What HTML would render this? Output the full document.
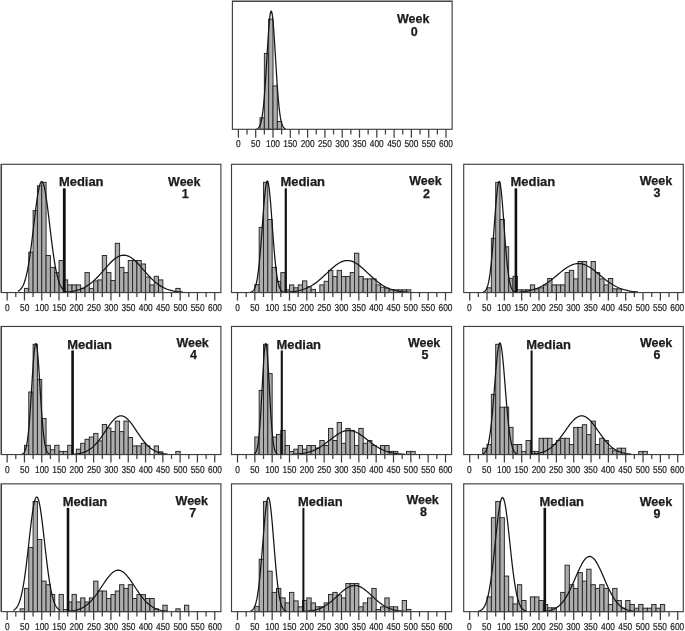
<!DOCTYPE html>
<html><head><meta charset="utf-8"><title>Weekly distributions</title>
<style>html,body{margin:0;padding:0;background:#fff}svg{display:block}text{font-family:"Liberation Sans",Arial,Helvetica,sans-serif}.t{font-size:10px;fill:#222;stroke:#222;stroke-width:.22;text-anchor:middle;text-rendering:geometricPrecision}.b{font-size:12px;font-weight:bold;fill:#1c1c1c;stroke:#1c1c1c;stroke-width:.25}.bar{fill:#adadad;stroke:#262626;stroke-width:.95}.cv{fill:none;stroke:#151515;stroke-width:1.25;stroke-linejoin:round}.fr{fill:none;stroke:#404040;stroke-width:1.15}.tk{stroke:#404040;stroke-width:1.25}.md{stroke:#111}</style></head><body>
<svg width="685" height="631" viewBox="0 0 685 631">
<rect width="685" height="631" fill="#fff"/>
<g id="week0">
<rect class="bar" x="260.02" y="117.80" width="4.32" height="11.50"/><rect class="bar" x="264.35" y="53.40" width="4.32" height="75.90"/><rect class="bar" x="268.68" y="19.10" width="4.32" height="110.20"/><rect class="bar" x="273.00" y="85.90" width="4.32" height="43.40"/><rect class="bar" x="277.32" y="121.50" width="4.32" height="7.80"/>
<polyline class="cv" points="256.61,128.93 257.10,128.77 257.59,128.53 258.07,128.20 258.56,127.76 259.04,127.16 259.53,126.37 260.02,125.34 260.50,124.02 260.99,122.33 261.48,120.24 261.96,117.66 262.45,114.53 262.93,110.81 263.42,106.45 263.91,101.41 264.39,95.70 264.88,89.34 265.37,82.38 265.85,74.91 266.34,67.06 266.82,58.98 267.31,50.87 267.80,42.94 268.28,35.42 268.77,28.55 269.26,22.55 269.74,17.64 270.23,14.00 270.71,11.76 271.20,11.00 271.69,11.76 272.17,14.00 272.66,17.64 273.15,22.55 273.63,28.55 274.12,35.42 274.60,42.94 275.09,50.87 275.58,58.98 276.06,67.06 276.55,74.91 277.04,82.38 277.52,89.34 278.01,95.70 278.49,101.41 278.98,106.45 279.47,110.81 279.95,114.53 280.44,117.66 280.93,120.24 281.41,122.33 281.90,124.02 282.38,125.34 282.87,126.37 283.36,127.16 283.84,127.76 284.33,128.20 284.82,128.53 285.30,128.77 285.79,128.93"/>
<rect class="fr" x="232.40" y="1.40" width="219.75" height="127.90"/>
<path class="tk" d="M238.40 129.30v8.5M247.05 129.30v5.1M255.70 129.30v8.5M264.35 129.30v5.1M273.00 129.30v8.5M281.65 129.30v5.1M290.30 129.30v8.5M298.95 129.30v5.1M307.60 129.30v8.5M316.25 129.30v5.1M324.90 129.30v8.5M333.55 129.30v5.1M342.20 129.30v8.5M350.85 129.30v5.1M359.50 129.30v8.5M368.15 129.30v5.1M376.80 129.30v8.5M385.45 129.30v5.1M394.10 129.30v8.5M402.75 129.30v5.1M411.40 129.30v8.5M420.05 129.30v5.1M428.70 129.30v8.5M437.35 129.30v5.1M446.00 129.30v8.5"/>
<text class="t" transform="translate(238.40 147.30) scale(.835 1)">0</text><text class="t" transform="translate(255.70 147.30) scale(.835 1)">50</text><text class="t" transform="translate(273.00 147.30) scale(.835 1)">100</text><text class="t" transform="translate(290.30 147.30) scale(.835 1)">150</text><text class="t" transform="translate(307.60 147.30) scale(.835 1)">200</text><text class="t" transform="translate(324.90 147.30) scale(.835 1)">250</text><text class="t" transform="translate(342.20 147.30) scale(.835 1)">300</text><text class="t" transform="translate(359.50 147.30) scale(.835 1)">350</text><text class="t" transform="translate(376.80 147.30) scale(.835 1)">400</text><text class="t" transform="translate(394.10 147.30) scale(.835 1)">450</text><text class="t" transform="translate(411.40 147.30) scale(.835 1)">500</text><text class="t" transform="translate(428.70 147.30) scale(.835 1)">550</text><text class="t" transform="translate(446.00 147.30) scale(.835 1)">600</text>
<text class="b" x="413.20" y="22.70" text-anchor="middle" textLength="32.4" lengthAdjust="spacingAndGlyphs">Week</text><text class="b" x="414.20" y="35.70" text-anchor="middle" style="font-size:12.5px">0</text>
</g>
<g id="week1">
<rect class="bar" x="24.45" y="288.40" width="4.32" height="4.15"/><rect class="bar" x="28.77" y="252.20" width="4.32" height="40.35"/><rect class="bar" x="33.10" y="210.60" width="4.32" height="81.95"/><rect class="bar" x="37.42" y="185.80" width="4.32" height="106.75"/><rect class="bar" x="41.75" y="182.30" width="4.32" height="110.25"/><rect class="bar" x="46.07" y="255.50" width="4.32" height="37.05"/><rect class="bar" x="50.40" y="267.40" width="4.32" height="25.15"/><rect class="bar" x="54.72" y="272.60" width="4.32" height="19.95"/><rect class="bar" x="59.05" y="260.50" width="4.32" height="32.05"/><rect class="bar" x="63.37" y="279.90" width="4.32" height="12.65"/><rect class="bar" x="67.70" y="284.90" width="4.32" height="7.65"/><rect class="bar" x="72.03" y="284.90" width="4.32" height="7.65"/><rect class="bar" x="76.35" y="284.90" width="4.32" height="7.65"/><rect class="bar" x="80.67" y="288.40" width="4.32" height="4.15"/><rect class="bar" x="85.00" y="272.60" width="4.32" height="19.95"/><rect class="bar" x="89.33" y="288.40" width="4.32" height="4.15"/><rect class="bar" x="93.65" y="280.90" width="4.32" height="11.65"/><rect class="bar" x="97.97" y="279.90" width="4.32" height="12.65"/><rect class="bar" x="102.30" y="255.50" width="4.32" height="37.05"/><rect class="bar" x="106.62" y="272.60" width="4.32" height="19.95"/><rect class="bar" x="110.95" y="280.50" width="4.32" height="12.05"/><rect class="bar" x="115.27" y="243.30" width="4.32" height="49.25"/><rect class="bar" x="119.60" y="267.40" width="4.32" height="25.15"/><rect class="bar" x="123.92" y="272.60" width="4.32" height="19.95"/><rect class="bar" x="128.25" y="260.50" width="4.32" height="32.05"/><rect class="bar" x="132.57" y="260.50" width="4.32" height="32.05"/><rect class="bar" x="136.90" y="260.50" width="4.32" height="32.05"/><rect class="bar" x="141.22" y="264.00" width="4.32" height="28.55"/><rect class="bar" x="145.55" y="277.00" width="4.32" height="15.55"/><rect class="bar" x="149.88" y="284.90" width="4.32" height="7.65"/><rect class="bar" x="154.20" y="276.30" width="4.32" height="16.25"/><rect class="bar" x="158.53" y="279.90" width="4.32" height="12.65"/><rect class="bar" x="175.82" y="288.40" width="4.32" height="4.15"/>
<polyline class="cv" points="17.88,291.32 18.67,290.89 19.47,290.35 20.26,289.65 21.06,288.77 21.85,287.67 22.65,286.32 23.45,284.66 24.24,282.68 25.04,280.31 25.83,277.52 26.63,274.29 27.43,270.57 28.22,266.37 29.02,261.67 29.81,256.50 30.61,250.87 31.40,244.85 32.20,238.50 33.00,231.91 33.79,225.19 34.59,218.48 35.38,211.91 36.18,205.63 36.98,199.79 37.77,194.55 38.57,190.04 39.36,186.39 40.16,183.70 40.95,182.05 41.75,181.50 42.55,182.05 43.34,183.70 44.14,186.39 44.93,190.04 45.73,194.55 46.52,199.79 47.32,205.63 48.12,211.91 48.91,218.48 49.71,225.19 50.50,231.91 51.30,238.50 52.10,244.85 52.89,250.87 53.69,256.50 54.48,261.67 55.28,266.37 56.07,270.57 56.87,274.29 57.67,277.52 58.46,280.31 59.26,282.68 60.05,284.66 60.85,286.32 61.64,287.67 62.44,288.77 63.24,289.65 64.03,290.35 64.83,290.89 65.62,291.32"/>
<polyline class="cv" points="64.59,292.13 66.56,291.99 68.53,291.81 70.50,291.57 72.47,291.27 74.45,290.90 76.42,290.45 78.39,289.89 80.36,289.22 82.34,288.42 84.31,287.48 86.28,286.39 88.25,285.14 90.22,283.72 92.20,282.14 94.17,280.39 96.14,278.49 98.11,276.46 100.09,274.32 102.06,272.10 104.03,269.84 106.00,267.57 107.97,265.36 109.95,263.24 111.92,261.27 113.89,259.50 115.86,257.98 117.84,256.75 119.81,255.84 121.78,255.29 123.75,255.10 125.72,255.29 127.70,255.84 129.67,256.75 131.64,257.98 133.61,259.50 135.59,261.27 137.56,263.24 139.53,265.36 141.50,267.57 143.47,269.84 145.45,272.10 147.42,274.32 149.39,276.46 151.36,278.49 153.34,280.39 155.31,282.14 157.28,283.72 159.25,285.14 161.22,286.39 163.20,287.48 165.17,288.42 167.14,289.22 169.11,289.89 171.08,290.45 173.06,290.90 175.03,291.27 177.00,291.57 178.97,291.81 180.95,291.99 182.92,292.13"/>
<rect class="fr" x="1.45" y="164.30" width="219.45" height="128.25"/>
<path class="tk" d="M7.15 292.55v7.9M15.80 292.55v4.5M24.45 292.55v7.9M33.10 292.55v4.5M41.75 292.55v7.9M50.40 292.55v4.5M59.05 292.55v7.9M67.70 292.55v4.5M76.35 292.55v7.9M85.00 292.55v4.5M93.65 292.55v7.9M102.30 292.55v4.5M110.95 292.55v7.9M119.60 292.55v4.5M128.25 292.55v7.9M136.90 292.55v4.5M145.55 292.55v7.9M154.20 292.55v4.5M162.85 292.55v7.9M171.50 292.55v4.5M180.15 292.55v7.9M188.80 292.55v4.5M197.45 292.55v7.9M206.10 292.55v4.5M214.75 292.55v7.9"/>
<text class="t" transform="translate(7.35 310.55) scale(.835 1)">0</text><text class="t" transform="translate(24.65 310.55) scale(.835 1)">50</text><text class="t" transform="translate(41.95 310.55) scale(.835 1)">100</text><text class="t" transform="translate(59.25 310.55) scale(.835 1)">150</text><text class="t" transform="translate(76.55 310.55) scale(.835 1)">200</text><text class="t" transform="translate(93.85 310.55) scale(.835 1)">250</text><text class="t" transform="translate(111.15 310.55) scale(.835 1)">300</text><text class="t" transform="translate(128.45 310.55) scale(.835 1)">350</text><text class="t" transform="translate(145.75 310.55) scale(.835 1)">400</text><text class="t" transform="translate(163.05 310.55) scale(.835 1)">450</text><text class="t" transform="translate(180.35 310.55) scale(.835 1)">500</text><text class="t" transform="translate(197.65 310.55) scale(.835 1)">550</text><text class="t" transform="translate(214.95 310.55) scale(.835 1)">600</text>
<line class="md" x1="64.30" y1="188.30" x2="64.30" y2="292.55" stroke-width="2.8"/>
<text class="b" x="58.95" y="185.50" textLength="44.6" lengthAdjust="spacingAndGlyphs">Median</text>
<text class="b" x="184.30" y="185.80" text-anchor="middle" textLength="32.4" lengthAdjust="spacingAndGlyphs">Week</text><text class="b" x="185.30" y="197.95" text-anchor="middle" style="font-size:12.5px">1</text>
</g>
<g id="week2">
<rect class="bar" x="254.83" y="284.50" width="4.33" height="8.05"/><rect class="bar" x="259.17" y="227.40" width="4.33" height="65.15"/><rect class="bar" x="263.50" y="182.30" width="4.33" height="110.25"/><rect class="bar" x="267.83" y="219.50" width="4.33" height="73.05"/><rect class="bar" x="272.17" y="267.40" width="4.33" height="25.15"/><rect class="bar" x="276.50" y="281.40" width="4.33" height="11.15"/><rect class="bar" x="280.83" y="272.60" width="4.33" height="19.95"/><rect class="bar" x="285.17" y="289.80" width="4.33" height="2.75"/><rect class="bar" x="289.50" y="284.90" width="4.33" height="7.65"/><rect class="bar" x="293.83" y="287.80" width="4.33" height="4.75"/><rect class="bar" x="298.17" y="284.90" width="4.33" height="7.65"/><rect class="bar" x="302.50" y="280.90" width="4.33" height="11.65"/><rect class="bar" x="306.83" y="286.80" width="4.33" height="5.75"/><rect class="bar" x="311.17" y="289.40" width="4.33" height="3.15"/><rect class="bar" x="319.83" y="284.90" width="4.33" height="7.65"/><rect class="bar" x="324.17" y="281.30" width="4.33" height="11.25"/><rect class="bar" x="328.50" y="270.40" width="4.33" height="22.15"/><rect class="bar" x="332.83" y="276.50" width="4.33" height="16.05"/><rect class="bar" x="337.17" y="270.40" width="4.33" height="22.15"/><rect class="bar" x="341.50" y="276.50" width="4.33" height="16.05"/><rect class="bar" x="345.83" y="276.50" width="4.33" height="16.05"/><rect class="bar" x="350.17" y="272.60" width="4.33" height="19.95"/><rect class="bar" x="354.50" y="253.20" width="4.33" height="39.35"/><rect class="bar" x="358.83" y="276.50" width="4.33" height="16.05"/><rect class="bar" x="363.17" y="278.90" width="4.33" height="13.65"/><rect class="bar" x="367.50" y="278.90" width="4.33" height="13.65"/><rect class="bar" x="371.83" y="278.90" width="4.33" height="13.65"/><rect class="bar" x="376.17" y="284.90" width="4.33" height="7.65"/><rect class="bar" x="380.50" y="287.20" width="4.33" height="5.35"/><rect class="bar" x="384.83" y="288.20" width="4.33" height="4.35"/><rect class="bar" x="389.17" y="289.80" width="4.33" height="2.75"/><rect class="bar" x="393.50" y="289.80" width="4.33" height="2.75"/><rect class="bar" x="397.83" y="289.80" width="4.33" height="2.75"/><rect class="bar" x="402.17" y="289.80" width="4.33" height="2.75"/><rect class="bar" x="406.50" y="289.80" width="4.33" height="2.75"/>
<polyline class="cv" points="249.84,292.35 250.42,292.24 251.00,292.09 251.59,291.87 252.17,291.57 252.75,291.15 253.33,290.57 253.92,289.80 254.50,288.78 255.08,287.46 255.66,285.76 256.25,283.63 256.83,281.00 257.41,277.79 257.99,273.95 258.58,269.44 259.16,264.24 259.74,258.35 260.32,251.81 260.91,244.69 261.49,237.11 262.07,229.23 262.65,221.22 263.24,213.32 263.82,205.77 264.40,198.83 264.98,192.73 265.57,187.72 266.15,183.98 266.73,181.68 267.31,180.90 267.90,181.68 268.48,183.98 269.06,187.72 269.64,192.73 270.23,198.83 270.81,205.77 271.39,213.32 271.97,221.22 272.56,229.23 273.14,237.11 273.72,244.69 274.30,251.81 274.89,258.35 275.47,264.24 276.05,269.44 276.63,273.95 277.22,277.79 277.80,281.00 278.38,283.63 278.96,285.76 279.55,287.46 280.13,288.78 280.71,289.80 281.29,290.57 281.88,291.15 282.46,291.57 283.04,291.87 283.62,292.09 284.21,292.24 284.79,292.35"/>
<polyline class="cv" points="286.03,292.19 288.08,292.07 290.12,291.91 292.17,291.71 294.21,291.46 296.26,291.14 298.31,290.75 300.35,290.27 302.40,289.70 304.44,289.02 306.49,288.21 308.53,287.28 310.58,286.21 312.62,284.99 314.67,283.64 316.71,282.14 318.76,280.52 320.80,278.78 322.85,276.95 324.89,275.05 326.94,273.11 328.99,271.17 331.03,269.28 333.08,267.46 335.12,265.78 337.17,264.27 339.21,262.96 341.26,261.91 343.30,261.13 345.35,260.66 347.39,260.50 349.44,260.66 351.48,261.13 353.53,261.91 355.57,262.96 357.62,264.27 359.67,265.78 361.71,267.46 363.76,269.28 365.80,271.17 367.85,273.11 369.89,275.05 371.94,276.95 373.98,278.78 376.03,280.52 378.07,282.14 380.12,283.64 382.16,284.99 384.21,286.21 386.25,287.28 388.30,288.21 390.35,289.02 392.39,289.70 394.44,290.27 396.48,290.75 398.53,291.14 400.57,291.46 402.62,291.71 404.66,291.91 406.71,292.07 408.75,292.19"/>
<rect class="fr" x="231.50" y="164.30" width="220.10" height="128.25"/>
<path class="tk" d="M237.50 292.55v7.9M246.17 292.55v4.5M254.83 292.55v7.9M263.50 292.55v4.5M272.17 292.55v7.9M280.83 292.55v4.5M289.50 292.55v7.9M298.17 292.55v4.5M306.83 292.55v7.9M315.50 292.55v4.5M324.17 292.55v7.9M332.83 292.55v4.5M341.50 292.55v7.9M350.17 292.55v4.5M358.83 292.55v7.9M367.50 292.55v4.5M376.17 292.55v7.9M384.83 292.55v4.5M393.50 292.55v7.9M402.17 292.55v4.5M410.83 292.55v7.9M419.50 292.55v4.5M428.17 292.55v7.9M436.83 292.55v4.5M445.50 292.55v7.9"/>
<text class="t" transform="translate(237.50 310.55) scale(.835 1)">0</text><text class="t" transform="translate(254.83 310.55) scale(.835 1)">50</text><text class="t" transform="translate(272.17 310.55) scale(.835 1)">100</text><text class="t" transform="translate(289.50 310.55) scale(.835 1)">150</text><text class="t" transform="translate(306.83 310.55) scale(.835 1)">200</text><text class="t" transform="translate(324.17 310.55) scale(.835 1)">250</text><text class="t" transform="translate(341.50 310.55) scale(.835 1)">300</text><text class="t" transform="translate(358.83 310.55) scale(.835 1)">350</text><text class="t" transform="translate(376.17 310.55) scale(.835 1)">400</text><text class="t" transform="translate(393.50 310.55) scale(.835 1)">450</text><text class="t" transform="translate(410.83 310.55) scale(.835 1)">500</text><text class="t" transform="translate(428.17 310.55) scale(.835 1)">550</text><text class="t" transform="translate(445.50 310.55) scale(.835 1)">600</text>
<line class="md" x1="285.80" y1="188.30" x2="285.80" y2="292.55" stroke-width="2.2"/>
<text class="b" x="280.45" y="185.50" textLength="44.6" lengthAdjust="spacingAndGlyphs">Median</text>
<text class="b" x="425.40" y="185.30" text-anchor="middle" textLength="32.4" lengthAdjust="spacingAndGlyphs">Week</text><text class="b" x="426.40" y="197.75" text-anchor="middle" style="font-size:12.5px">2</text>
</g>
<g id="week3">
<rect class="bar" x="487.03" y="287.80" width="4.33" height="4.75"/><rect class="bar" x="491.37" y="238.30" width="4.33" height="54.25"/><rect class="bar" x="495.70" y="182.30" width="4.33" height="110.25"/><rect class="bar" x="500.03" y="219.50" width="4.33" height="73.05"/><rect class="bar" x="504.37" y="246.80" width="4.33" height="45.75"/><rect class="bar" x="508.70" y="278.40" width="4.33" height="14.15"/><rect class="bar" x="513.03" y="276.30" width="4.33" height="16.25"/><rect class="bar" x="517.37" y="289.80" width="4.33" height="2.75"/><rect class="bar" x="521.70" y="289.80" width="4.33" height="2.75"/><rect class="bar" x="526.03" y="289.80" width="4.33" height="2.75"/><rect class="bar" x="530.37" y="284.90" width="4.33" height="7.65"/><rect class="bar" x="534.70" y="288.80" width="4.33" height="3.75"/><rect class="bar" x="539.03" y="287.80" width="4.33" height="4.75"/><rect class="bar" x="543.37" y="284.90" width="4.33" height="7.65"/><rect class="bar" x="547.70" y="278.50" width="4.33" height="14.05"/><rect class="bar" x="552.03" y="284.90" width="4.33" height="7.65"/><rect class="bar" x="556.37" y="284.90" width="4.33" height="7.65"/><rect class="bar" x="560.70" y="284.90" width="4.33" height="7.65"/><rect class="bar" x="565.03" y="272.60" width="4.33" height="19.95"/><rect class="bar" x="569.37" y="270.40" width="4.33" height="22.15"/><rect class="bar" x="573.70" y="278.90" width="4.33" height="13.65"/><rect class="bar" x="578.03" y="261.50" width="4.33" height="31.05"/><rect class="bar" x="582.37" y="261.50" width="4.33" height="31.05"/><rect class="bar" x="586.70" y="278.90" width="4.33" height="13.65"/><rect class="bar" x="591.03" y="261.50" width="4.33" height="31.05"/><rect class="bar" x="595.37" y="272.60" width="4.33" height="19.95"/><rect class="bar" x="599.70" y="278.90" width="4.33" height="13.65"/><rect class="bar" x="604.03" y="284.90" width="4.33" height="7.65"/><rect class="bar" x="608.37" y="278.50" width="4.33" height="14.05"/><rect class="bar" x="612.70" y="288.80" width="4.33" height="3.75"/><rect class="bar" x="617.03" y="288.80" width="4.33" height="3.75"/>
<polyline class="cv" points="483.15,292.07 483.68,291.86 484.22,291.58 484.75,291.20 485.29,290.69 485.82,290.02 486.35,289.15 486.89,288.03 487.42,286.61 487.96,284.84 488.49,282.68 489.02,280.05 489.56,276.91 490.09,273.22 490.62,268.95 491.16,264.08 491.69,258.62 492.23,252.60 492.76,246.08 493.29,239.14 493.83,231.91 494.36,224.52 494.90,217.15 495.43,209.99 495.96,203.23 496.50,197.09 497.03,191.75 497.57,187.38 498.10,184.16 498.63,182.17 499.17,181.50 499.70,182.17 500.23,184.16 500.77,187.38 501.30,191.75 501.84,197.09 502.37,203.23 502.90,209.99 503.44,217.15 503.97,224.52 504.51,231.91 505.04,239.14 505.57,246.08 506.11,252.60 506.64,258.62 507.17,264.08 507.71,268.95 508.24,273.22 508.78,276.91 509.31,280.05 509.84,282.68 510.38,284.84 510.91,286.61 511.45,288.03 511.98,289.15 512.51,290.02 513.05,290.69 513.58,291.20 514.11,291.58 514.65,291.86 515.18,292.07"/>
<polyline class="cv" points="519.34,291.97 521.32,291.80 523.29,291.59 525.26,291.34 527.24,291.02 529.21,290.64 531.18,290.19 533.16,289.65 535.13,289.02 537.11,288.29 539.08,287.46 541.05,286.52 543.03,285.47 545.00,284.30 546.97,283.02 548.95,281.65 550.92,280.18 552.90,278.64 554.87,277.03 556.84,275.40 558.82,273.76 560.79,272.14 562.76,270.57 564.74,269.08 566.71,267.72 568.68,266.50 570.66,265.46 572.63,264.62 574.61,264.00 576.58,263.63 578.55,263.50 580.53,263.63 582.50,264.00 584.47,264.62 586.45,265.46 588.42,266.50 590.40,267.72 592.37,269.08 594.34,270.57 596.32,272.14 598.29,273.76 600.26,275.40 602.24,277.03 604.21,278.64 606.18,280.18 608.16,281.65 610.13,283.02 612.11,284.30 614.08,285.47 616.05,286.52 618.03,287.46 620.00,288.29 621.97,289.02 623.95,289.65 625.92,290.19 627.90,290.64 629.87,291.02 631.84,291.34 633.82,291.59 635.79,291.80 637.76,291.97"/>
<rect class="fr" x="463.70" y="164.30" width="219.60" height="128.25"/>
<path class="tk" d="M469.70 292.55v7.9M478.37 292.55v4.5M487.03 292.55v7.9M495.70 292.55v4.5M504.37 292.55v7.9M513.03 292.55v4.5M521.70 292.55v7.9M530.37 292.55v4.5M539.03 292.55v7.9M547.70 292.55v4.5M556.37 292.55v7.9M565.03 292.55v4.5M573.70 292.55v7.9M582.37 292.55v4.5M591.03 292.55v7.9M599.70 292.55v4.5M608.37 292.55v7.9M617.03 292.55v4.5M625.70 292.55v7.9M634.37 292.55v4.5M643.03 292.55v7.9M651.70 292.55v4.5M660.37 292.55v7.9M669.03 292.55v4.5M677.70 292.55v7.9"/>
<text class="t" transform="translate(469.30 310.55) scale(.835 1)">0</text><text class="t" transform="translate(486.63 310.55) scale(.835 1)">50</text><text class="t" transform="translate(503.97 310.55) scale(.835 1)">100</text><text class="t" transform="translate(521.30 310.55) scale(.835 1)">150</text><text class="t" transform="translate(538.63 310.55) scale(.835 1)">200</text><text class="t" transform="translate(555.97 310.55) scale(.835 1)">250</text><text class="t" transform="translate(573.30 310.55) scale(.835 1)">300</text><text class="t" transform="translate(590.63 310.55) scale(.835 1)">350</text><text class="t" transform="translate(607.97 310.55) scale(.835 1)">400</text><text class="t" transform="translate(625.30 310.55) scale(.835 1)">450</text><text class="t" transform="translate(642.63 310.55) scale(.835 1)">500</text><text class="t" transform="translate(659.97 310.55) scale(.835 1)">550</text><text class="t" transform="translate(677.30 310.55) scale(.835 1)">600</text>
<line class="md" x1="515.90" y1="188.30" x2="515.90" y2="292.55" stroke-width="2.6"/>
<text class="b" x="510.55" y="185.50" textLength="44.6" lengthAdjust="spacingAndGlyphs">Median</text>
<text class="b" x="655.90" y="184.90" text-anchor="middle" textLength="32.4" lengthAdjust="spacingAndGlyphs">Week</text><text class="b" x="656.90" y="197.35" text-anchor="middle" style="font-size:12.5px">3</text>
</g>
<g id="week4">
<rect class="bar" x="24.45" y="445.30" width="4.32" height="9.25"/><rect class="bar" x="28.77" y="392.00" width="4.32" height="62.55"/><rect class="bar" x="33.10" y="344.30" width="4.32" height="110.25"/><rect class="bar" x="37.42" y="379.50" width="4.32" height="75.05"/><rect class="bar" x="41.75" y="418.50" width="4.32" height="36.05"/><rect class="bar" x="46.07" y="445.30" width="4.32" height="9.25"/><rect class="bar" x="50.40" y="449.80" width="4.32" height="4.75"/><rect class="bar" x="54.72" y="445.30" width="4.32" height="9.25"/><rect class="bar" x="59.05" y="451.40" width="4.32" height="3.15"/><rect class="bar" x="63.37" y="451.40" width="4.32" height="3.15"/><rect class="bar" x="67.70" y="445.30" width="4.32" height="9.25"/><rect class="bar" x="76.35" y="449.20" width="4.32" height="5.35"/><rect class="bar" x="80.67" y="443.30" width="4.32" height="11.25"/><rect class="bar" x="85.00" y="439.30" width="4.32" height="15.25"/><rect class="bar" x="89.33" y="437.00" width="4.32" height="17.55"/><rect class="bar" x="93.65" y="433.40" width="4.32" height="21.15"/><rect class="bar" x="97.97" y="440.90" width="4.32" height="13.65"/><rect class="bar" x="102.30" y="424.50" width="4.32" height="30.05"/><rect class="bar" x="106.62" y="428.00" width="4.32" height="26.55"/><rect class="bar" x="110.95" y="431.60" width="4.32" height="22.95"/><rect class="bar" x="115.27" y="421.10" width="4.32" height="33.45"/><rect class="bar" x="119.60" y="431.60" width="4.32" height="22.95"/><rect class="bar" x="123.92" y="421.10" width="4.32" height="33.45"/><rect class="bar" x="128.25" y="437.50" width="4.32" height="17.05"/><rect class="bar" x="132.57" y="445.90" width="4.32" height="8.65"/><rect class="bar" x="136.90" y="445.90" width="4.32" height="8.65"/><rect class="bar" x="141.22" y="443.30" width="4.32" height="11.25"/><rect class="bar" x="145.55" y="445.90" width="4.32" height="8.65"/><rect class="bar" x="154.20" y="445.90" width="4.32" height="8.65"/><rect class="bar" x="158.53" y="451.80" width="4.32" height="2.75"/><rect class="bar" x="175.82" y="451.40" width="4.32" height="3.15"/>
<polyline class="cv" points="21.75,454.21 22.22,454.05 22.69,453.83 23.16,453.52 23.63,453.10 24.10,452.54 24.57,451.80 25.05,450.83 25.52,449.59 25.99,448.01 26.46,446.04 26.93,443.62 27.40,440.69 27.87,437.19 28.34,433.10 28.81,428.37 29.28,423.01 29.75,417.04 30.22,410.51 30.69,403.50 31.16,396.12 31.63,388.54 32.10,380.93 32.57,373.48 33.04,366.42 33.52,359.97 33.99,354.34 34.46,349.74 34.93,346.32 35.40,344.21 35.87,343.50 36.34,344.21 36.81,346.32 37.28,349.74 37.75,354.34 38.22,359.97 38.69,366.42 39.16,373.48 39.63,380.93 40.10,388.54 40.57,396.12 41.04,403.50 41.51,410.51 41.99,417.04 42.46,423.01 42.93,428.37 43.40,433.10 43.87,437.19 44.34,440.69 44.81,443.62 45.28,446.04 45.75,448.01 46.22,449.59 46.69,450.83 47.16,451.80 47.63,452.54 48.10,453.10 48.57,453.52 49.04,453.83 49.51,454.05 49.98,454.21"/>
<polyline class="cv" points="74.27,454.12 75.83,453.97 77.39,453.78 78.95,453.54 80.50,453.23 82.06,452.85 83.62,452.37 85.17,451.80 86.73,451.10 88.29,450.28 89.84,449.31 91.40,448.18 92.96,446.88 94.52,445.41 96.07,443.78 97.63,441.97 99.19,440.01 100.74,437.90 102.30,435.69 103.86,433.39 105.41,431.05 106.97,428.70 108.53,426.41 110.08,424.22 111.64,422.18 113.20,420.35 114.76,418.78 116.31,417.51 117.87,416.57 119.43,415.99 120.98,415.80 122.54,415.99 124.10,416.57 125.66,417.51 127.21,418.78 128.77,420.35 130.33,422.18 131.88,424.22 133.44,426.41 135.00,428.70 136.55,431.05 138.11,433.39 139.67,435.69 141.22,437.90 142.78,440.01 144.34,441.97 145.90,443.78 147.45,445.41 149.01,446.88 150.57,448.18 152.12,449.31 153.68,450.28 155.24,451.10 156.79,451.80 158.35,452.37 159.91,452.85 161.47,453.23 163.02,453.54 164.58,453.78 166.14,453.97 167.69,454.12"/>
<rect class="fr" x="1.45" y="326.45" width="219.45" height="128.10"/>
<path class="tk" d="M7.15 454.55v7.9M15.80 454.55v4.5M24.45 454.55v7.9M33.10 454.55v4.5M41.75 454.55v7.9M50.40 454.55v4.5M59.05 454.55v7.9M67.70 454.55v4.5M76.35 454.55v7.9M85.00 454.55v4.5M93.65 454.55v7.9M102.30 454.55v4.5M110.95 454.55v7.9M119.60 454.55v4.5M128.25 454.55v7.9M136.90 454.55v4.5M145.55 454.55v7.9M154.20 454.55v4.5M162.85 454.55v7.9M171.50 454.55v4.5M180.15 454.55v7.9M188.80 454.55v4.5M197.45 454.55v7.9M206.10 454.55v4.5M214.75 454.55v7.9"/>
<text class="t" transform="translate(7.35 472.55) scale(.835 1)">0</text><text class="t" transform="translate(24.65 472.55) scale(.835 1)">50</text><text class="t" transform="translate(41.95 472.55) scale(.835 1)">100</text><text class="t" transform="translate(59.25 472.55) scale(.835 1)">150</text><text class="t" transform="translate(76.55 472.55) scale(.835 1)">200</text><text class="t" transform="translate(93.85 472.55) scale(.835 1)">250</text><text class="t" transform="translate(111.15 472.55) scale(.835 1)">300</text><text class="t" transform="translate(128.45 472.55) scale(.835 1)">350</text><text class="t" transform="translate(145.75 472.55) scale(.835 1)">400</text><text class="t" transform="translate(163.05 472.55) scale(.835 1)">450</text><text class="t" transform="translate(180.35 472.55) scale(.835 1)">500</text><text class="t" transform="translate(197.65 472.55) scale(.835 1)">550</text><text class="t" transform="translate(214.95 472.55) scale(.835 1)">600</text>
<line class="md" x1="72.60" y1="350.45" x2="72.60" y2="454.55" stroke-width="2.6"/>
<text class="b" x="67.25" y="348.95" textLength="44.6" lengthAdjust="spacingAndGlyphs">Median</text>
<text class="b" x="192.60" y="346.80" text-anchor="middle" textLength="32.4" lengthAdjust="spacingAndGlyphs">Week</text><text class="b" x="193.60" y="359.35" text-anchor="middle" style="font-size:12.5px">4</text>
</g>
<g id="week5">
<rect class="bar" x="254.83" y="437.00" width="4.33" height="17.55"/><rect class="bar" x="259.17" y="390.40" width="4.33" height="64.15"/><rect class="bar" x="263.50" y="344.30" width="4.33" height="110.25"/><rect class="bar" x="267.83" y="373.60" width="4.33" height="80.95"/><rect class="bar" x="272.17" y="437.00" width="4.33" height="17.55"/><rect class="bar" x="276.50" y="434.40" width="4.33" height="20.15"/><rect class="bar" x="280.83" y="430.40" width="4.33" height="24.15"/><rect class="bar" x="285.17" y="445.50" width="4.33" height="9.05"/><rect class="bar" x="289.50" y="451.40" width="4.33" height="3.15"/><rect class="bar" x="293.83" y="449.20" width="4.33" height="5.35"/><rect class="bar" x="298.17" y="445.50" width="4.33" height="9.05"/><rect class="bar" x="302.50" y="449.20" width="4.33" height="5.35"/><rect class="bar" x="306.83" y="445.50" width="4.33" height="9.05"/><rect class="bar" x="311.17" y="445.50" width="4.33" height="9.05"/><rect class="bar" x="315.50" y="448.00" width="4.33" height="6.55"/><rect class="bar" x="319.83" y="440.50" width="4.33" height="14.05"/><rect class="bar" x="324.17" y="445.50" width="4.33" height="9.05"/><rect class="bar" x="328.50" y="428.40" width="4.33" height="26.15"/><rect class="bar" x="332.83" y="440.50" width="4.33" height="14.05"/><rect class="bar" x="337.17" y="422.50" width="4.33" height="32.05"/><rect class="bar" x="341.50" y="443.30" width="4.33" height="11.25"/><rect class="bar" x="345.83" y="428.40" width="4.33" height="26.15"/><rect class="bar" x="350.17" y="430.40" width="4.33" height="24.15"/><rect class="bar" x="354.50" y="445.50" width="4.33" height="9.05"/><rect class="bar" x="358.83" y="428.40" width="4.33" height="26.15"/><rect class="bar" x="363.17" y="443.30" width="4.33" height="11.25"/><rect class="bar" x="367.50" y="440.50" width="4.33" height="14.05"/><rect class="bar" x="371.83" y="445.50" width="4.33" height="9.05"/><rect class="bar" x="380.50" y="445.50" width="4.33" height="9.05"/><rect class="bar" x="384.83" y="445.50" width="4.33" height="9.05"/><rect class="bar" x="389.17" y="451.40" width="4.33" height="3.15"/><rect class="bar" x="393.50" y="451.40" width="4.33" height="3.15"/><rect class="bar" x="406.50" y="451.40" width="4.33" height="3.15"/><rect class="bar" x="410.83" y="451.40" width="4.33" height="3.15"/>
<polyline class="cv" points="253.97,454.07 254.36,453.86 254.76,453.58 255.15,453.20 255.54,452.69 255.93,452.02 256.33,451.15 256.72,450.03 257.11,448.61 257.51,446.84 257.90,444.68 258.29,442.05 258.68,438.91 259.08,435.22 259.47,430.95 259.86,426.08 260.25,420.62 260.65,414.60 261.04,408.08 261.43,401.14 261.83,393.91 262.22,386.52 262.61,379.15 263.00,371.99 263.40,365.23 263.79,359.09 264.18,353.75 264.58,349.38 264.97,346.16 265.36,344.17 265.75,343.50 266.15,344.17 266.54,346.16 266.93,349.38 267.32,353.75 267.72,359.09 268.11,365.23 268.50,371.99 268.90,379.15 269.29,386.52 269.68,393.91 270.07,401.14 270.47,408.08 270.86,414.60 271.25,420.62 271.64,426.08 272.04,430.95 272.43,435.22 272.82,438.91 273.22,442.05 273.61,444.68 274.00,446.84 274.39,448.61 274.79,450.03 275.18,451.15 275.57,452.02 275.97,452.69 276.36,453.20 276.75,453.58 277.14,453.86 277.54,454.07"/>
<polyline class="cv" points="292.62,454.28 294.49,454.19 296.36,454.07 298.24,453.92 300.11,453.73 301.98,453.49 303.85,453.19 305.72,452.84 307.60,452.40 309.47,451.89 311.34,451.28 313.21,450.58 315.08,449.77 316.96,448.86 318.83,447.84 320.70,446.71 322.57,445.49 324.44,444.18 326.32,442.79 328.19,441.36 330.06,439.90 331.93,438.44 333.80,437.01 335.68,435.65 337.55,434.38 339.42,433.24 341.29,432.26 343.16,431.46 345.04,430.88 346.91,430.52 348.78,430.40 350.65,430.52 352.52,430.88 354.40,431.46 356.27,432.26 358.14,433.24 360.01,434.38 361.88,435.65 363.76,437.01 365.63,438.44 367.50,439.90 369.37,441.36 371.24,442.79 373.12,444.18 374.99,445.49 376.86,446.71 378.73,447.84 380.60,448.86 382.48,449.77 384.35,450.58 386.22,451.28 388.09,451.89 389.96,452.40 391.84,452.84 393.71,453.19 395.58,453.49 397.45,453.73 399.32,453.92 401.20,454.07 403.07,454.19 404.94,454.28"/>
<rect class="fr" x="231.50" y="326.45" width="220.10" height="128.10"/>
<path class="tk" d="M237.50 454.55v7.9M246.17 454.55v4.5M254.83 454.55v7.9M263.50 454.55v4.5M272.17 454.55v7.9M280.83 454.55v4.5M289.50 454.55v7.9M298.17 454.55v4.5M306.83 454.55v7.9M315.50 454.55v4.5M324.17 454.55v7.9M332.83 454.55v4.5M341.50 454.55v7.9M350.17 454.55v4.5M358.83 454.55v7.9M367.50 454.55v4.5M376.17 454.55v7.9M384.83 454.55v4.5M393.50 454.55v7.9M402.17 454.55v4.5M410.83 454.55v7.9M419.50 454.55v4.5M428.17 454.55v7.9M436.83 454.55v4.5M445.50 454.55v7.9"/>
<text class="t" transform="translate(237.50 472.55) scale(.835 1)">0</text><text class="t" transform="translate(254.83 472.55) scale(.835 1)">50</text><text class="t" transform="translate(272.17 472.55) scale(.835 1)">100</text><text class="t" transform="translate(289.50 472.55) scale(.835 1)">150</text><text class="t" transform="translate(306.83 472.55) scale(.835 1)">200</text><text class="t" transform="translate(324.17 472.55) scale(.835 1)">250</text><text class="t" transform="translate(341.50 472.55) scale(.835 1)">300</text><text class="t" transform="translate(358.83 472.55) scale(.835 1)">350</text><text class="t" transform="translate(376.17 472.55) scale(.835 1)">400</text><text class="t" transform="translate(393.50 472.55) scale(.835 1)">450</text><text class="t" transform="translate(410.83 472.55) scale(.835 1)">500</text><text class="t" transform="translate(428.17 472.55) scale(.835 1)">550</text><text class="t" transform="translate(445.50 472.55) scale(.835 1)">600</text>
<line class="md" x1="281.80" y1="350.45" x2="281.80" y2="454.55" stroke-width="2.1"/>
<text class="b" x="276.45" y="348.95" textLength="44.6" lengthAdjust="spacingAndGlyphs">Median</text>
<text class="b" x="424.10" y="346.50" text-anchor="middle" textLength="32.4" lengthAdjust="spacingAndGlyphs">Week</text><text class="b" x="425.10" y="359.05" text-anchor="middle" style="font-size:12.5px">5</text>
</g>
<g id="week6">
<rect class="bar" x="482.70" y="448.20" width="4.33" height="6.35"/><rect class="bar" x="487.03" y="444.50" width="4.33" height="10.05"/><rect class="bar" x="491.37" y="394.40" width="4.33" height="60.15"/><rect class="bar" x="495.70" y="344.30" width="4.33" height="110.25"/><rect class="bar" x="500.03" y="407.20" width="4.33" height="47.35"/><rect class="bar" x="504.37" y="407.20" width="4.33" height="47.35"/><rect class="bar" x="508.70" y="427.40" width="4.33" height="27.15"/><rect class="bar" x="513.03" y="444.50" width="4.33" height="10.05"/><rect class="bar" x="517.37" y="444.50" width="4.33" height="10.05"/><rect class="bar" x="521.70" y="451.40" width="4.33" height="3.15"/><rect class="bar" x="526.03" y="440.50" width="4.33" height="14.05"/><rect class="bar" x="530.37" y="451.40" width="4.33" height="3.15"/><rect class="bar" x="534.70" y="451.40" width="4.33" height="3.15"/><rect class="bar" x="539.03" y="438.30" width="4.33" height="16.25"/><rect class="bar" x="543.37" y="438.30" width="4.33" height="16.25"/><rect class="bar" x="547.70" y="438.30" width="4.33" height="16.25"/><rect class="bar" x="552.03" y="444.50" width="4.33" height="10.05"/><rect class="bar" x="556.37" y="440.50" width="4.33" height="14.05"/><rect class="bar" x="560.70" y="438.30" width="4.33" height="16.25"/><rect class="bar" x="565.03" y="438.30" width="4.33" height="16.25"/><rect class="bar" x="569.37" y="444.50" width="4.33" height="10.05"/><rect class="bar" x="573.70" y="427.40" width="4.33" height="27.15"/><rect class="bar" x="578.03" y="427.40" width="4.33" height="27.15"/><rect class="bar" x="582.37" y="424.70" width="4.33" height="29.85"/><rect class="bar" x="586.70" y="434.60" width="4.33" height="19.95"/><rect class="bar" x="591.03" y="421.10" width="4.33" height="33.45"/><rect class="bar" x="595.37" y="444.50" width="4.33" height="10.05"/><rect class="bar" x="599.70" y="438.30" width="4.33" height="16.25"/><rect class="bar" x="604.03" y="440.50" width="4.33" height="14.05"/><rect class="bar" x="608.37" y="448.20" width="4.33" height="6.35"/><rect class="bar" x="612.70" y="450.80" width="4.33" height="3.75"/><rect class="bar" x="617.03" y="448.20" width="4.33" height="6.35"/><rect class="bar" x="621.37" y="448.20" width="4.33" height="6.35"/><rect class="bar" x="638.70" y="451.40" width="4.33" height="3.15"/><rect class="bar" x="643.03" y="451.40" width="4.33" height="3.15"/>
<polyline class="cv" points="482.78,453.88 483.35,453.62 483.92,453.26 484.48,452.78 485.05,452.16 485.62,451.36 486.19,450.34 486.76,449.04 487.33,447.44 487.90,445.47 488.47,443.08 489.04,440.23 489.61,436.87 490.18,432.98 490.75,428.53 491.32,423.51 491.89,417.94 492.46,411.86 493.03,405.34 493.60,398.46 494.17,391.34 494.73,384.12 495.30,376.97 495.87,370.06 496.44,363.58 497.01,357.70 497.58,352.61 498.15,348.47 498.72,345.41 499.29,343.53 499.86,342.90 500.43,343.53 501.00,345.41 501.57,348.47 502.14,352.61 502.71,357.70 503.28,363.58 503.85,370.06 504.42,376.97 504.99,384.12 505.55,391.34 506.12,398.46 506.69,405.34 507.26,411.86 507.83,417.94 508.40,423.51 508.97,428.53 509.54,432.98 510.11,436.87 510.68,440.23 511.25,443.08 511.82,445.47 512.39,447.44 512.96,449.04 513.53,450.34 514.10,451.36 514.67,452.16 515.24,452.78 515.80,453.26 516.37,453.62 516.94,453.88"/>
<polyline class="cv" points="532.07,454.12 533.72,453.97 535.37,453.78 537.03,453.54 538.68,453.23 540.33,452.85 541.99,452.37 543.64,451.80 545.29,451.10 546.95,450.28 548.60,449.31 550.25,448.18 551.91,446.88 553.56,445.41 555.22,443.78 556.87,441.97 558.52,440.01 560.18,437.90 561.83,435.69 563.48,433.39 565.14,431.05 566.79,428.70 568.44,426.41 570.10,424.22 571.75,422.18 573.41,420.35 575.06,418.78 576.71,417.51 578.37,416.57 580.02,415.99 581.67,415.80 583.33,415.99 584.98,416.57 586.63,417.51 588.29,418.78 589.94,420.35 591.59,422.18 593.25,424.22 594.90,426.41 596.56,428.70 598.21,431.05 599.86,433.39 601.52,435.69 603.17,437.90 604.82,440.01 606.48,441.97 608.13,443.78 609.78,445.41 611.44,446.88 613.09,448.18 614.75,449.31 616.40,450.28 618.05,451.10 619.71,451.80 621.36,452.37 623.01,452.85 624.67,453.23 626.32,453.54 627.97,453.78 629.63,453.97 631.28,454.12"/>
<rect class="fr" x="463.70" y="326.45" width="219.60" height="128.10"/>
<path class="tk" d="M469.70 454.55v7.9M478.37 454.55v4.5M487.03 454.55v7.9M495.70 454.55v4.5M504.37 454.55v7.9M513.03 454.55v4.5M521.70 454.55v7.9M530.37 454.55v4.5M539.03 454.55v7.9M547.70 454.55v4.5M556.37 454.55v7.9M565.03 454.55v4.5M573.70 454.55v7.9M582.37 454.55v4.5M591.03 454.55v7.9M599.70 454.55v4.5M608.37 454.55v7.9M617.03 454.55v4.5M625.70 454.55v7.9M634.37 454.55v4.5M643.03 454.55v7.9M651.70 454.55v4.5M660.37 454.55v7.9M669.03 454.55v4.5M677.70 454.55v7.9"/>
<text class="t" transform="translate(469.30 472.55) scale(.835 1)">0</text><text class="t" transform="translate(486.63 472.55) scale(.835 1)">50</text><text class="t" transform="translate(503.97 472.55) scale(.835 1)">100</text><text class="t" transform="translate(521.30 472.55) scale(.835 1)">150</text><text class="t" transform="translate(538.63 472.55) scale(.835 1)">200</text><text class="t" transform="translate(555.97 472.55) scale(.835 1)">250</text><text class="t" transform="translate(573.30 472.55) scale(.835 1)">300</text><text class="t" transform="translate(590.63 472.55) scale(.835 1)">350</text><text class="t" transform="translate(607.97 472.55) scale(.835 1)">400</text><text class="t" transform="translate(625.30 472.55) scale(.835 1)">450</text><text class="t" transform="translate(642.63 472.55) scale(.835 1)">500</text><text class="t" transform="translate(659.97 472.55) scale(.835 1)">550</text><text class="t" transform="translate(677.30 472.55) scale(.835 1)">600</text>
<line class="md" x1="531.60" y1="350.45" x2="531.60" y2="454.55" stroke-width="2.0"/>
<text class="b" x="526.25" y="348.95" textLength="44.6" lengthAdjust="spacingAndGlyphs">Median</text>
<text class="b" x="656.10" y="346.70" text-anchor="middle" textLength="32.4" lengthAdjust="spacingAndGlyphs">Week</text><text class="b" x="657.10" y="359.15" text-anchor="middle" style="font-size:12.5px">6</text>
</g>
<g id="week7">
<rect class="bar" x="20.12" y="608.80" width="4.32" height="2.85"/><rect class="bar" x="24.45" y="588.40" width="4.32" height="23.25"/><rect class="bar" x="28.77" y="547.40" width="4.32" height="64.25"/><rect class="bar" x="33.10" y="501.50" width="4.32" height="110.15"/><rect class="bar" x="37.42" y="539.50" width="4.32" height="72.15"/><rect class="bar" x="41.75" y="581.10" width="4.32" height="30.55"/><rect class="bar" x="46.07" y="584.70" width="4.32" height="26.95"/><rect class="bar" x="50.40" y="594.40" width="4.32" height="17.25"/><rect class="bar" x="59.05" y="594.40" width="4.32" height="17.25"/><rect class="bar" x="63.37" y="609.50" width="4.32" height="2.15"/><rect class="bar" x="67.70" y="601.90" width="4.32" height="9.75"/><rect class="bar" x="72.03" y="594.40" width="4.32" height="17.25"/><rect class="bar" x="76.35" y="601.90" width="4.32" height="9.75"/><rect class="bar" x="80.67" y="597.90" width="4.32" height="13.75"/><rect class="bar" x="85.00" y="601.90" width="4.32" height="9.75"/><rect class="bar" x="89.33" y="597.90" width="4.32" height="13.75"/><rect class="bar" x="93.65" y="581.10" width="4.32" height="30.55"/><rect class="bar" x="97.97" y="591.00" width="4.32" height="20.65"/><rect class="bar" x="102.30" y="591.00" width="4.32" height="20.65"/><rect class="bar" x="106.62" y="598.50" width="4.32" height="13.15"/><rect class="bar" x="110.95" y="594.60" width="4.32" height="17.05"/><rect class="bar" x="115.27" y="591.00" width="4.32" height="20.65"/><rect class="bar" x="119.60" y="584.70" width="4.32" height="26.95"/><rect class="bar" x="123.92" y="588.40" width="4.32" height="23.25"/><rect class="bar" x="128.25" y="584.70" width="4.32" height="26.95"/><rect class="bar" x="132.57" y="598.50" width="4.32" height="13.15"/><rect class="bar" x="136.90" y="594.60" width="4.32" height="17.05"/><rect class="bar" x="141.22" y="594.60" width="4.32" height="17.05"/><rect class="bar" x="145.55" y="598.50" width="4.32" height="13.15"/><rect class="bar" x="149.88" y="598.50" width="4.32" height="13.15"/><rect class="bar" x="154.20" y="609.00" width="4.32" height="2.65"/><rect class="bar" x="162.85" y="605.20" width="4.32" height="6.45"/><rect class="bar" x="175.82" y="608.80" width="4.32" height="2.85"/><rect class="bar" x="184.47" y="605.20" width="4.32" height="6.45"/>
<polyline class="cv" points="13.38,610.38 14.16,609.94 14.93,609.37 15.71,608.65 16.49,607.74 17.27,606.61 18.05,605.21 18.83,603.50 19.61,601.45 20.38,599.00 21.16,596.12 21.94,592.78 22.72,588.94 23.50,584.60 24.28,579.75 25.06,574.40 25.83,568.58 26.61,562.36 27.39,555.80 28.17,548.99 28.95,542.05 29.73,535.11 30.50,528.32 31.28,521.83 32.06,515.80 32.84,510.38 33.62,505.72 34.40,501.95 35.18,499.17 35.95,497.47 36.73,496.90 37.51,497.47 38.29,499.17 39.07,501.95 39.85,505.72 40.63,510.38 41.40,515.80 42.18,521.83 42.96,528.32 43.74,535.11 44.52,542.05 45.30,548.99 46.07,555.80 46.85,562.36 47.63,568.58 48.41,574.40 49.19,579.75 49.97,584.60 50.75,588.94 51.52,592.78 52.30,596.12 53.08,599.00 53.86,601.45 54.64,603.50 55.42,605.21 56.20,606.61 56.97,607.74 57.75,608.65 58.53,609.37 59.31,609.94 60.09,610.38"/>
<polyline class="cv" points="68.91,611.19 70.55,611.03 72.20,610.83 73.84,610.57 75.48,610.24 77.13,609.83 78.77,609.32 80.42,608.71 82.06,607.96 83.70,607.08 85.35,606.04 86.99,604.83 88.63,603.45 90.28,601.88 91.92,600.13 93.56,598.19 95.21,596.09 96.85,593.84 98.49,591.47 100.14,589.02 101.78,586.51 103.42,584.00 105.07,581.55 106.71,579.21 108.36,577.03 110.00,575.07 111.64,573.39 113.29,572.02 114.93,571.02 116.57,570.41 118.22,570.20 119.86,570.41 121.50,571.02 123.15,572.02 124.79,573.39 126.43,575.07 128.08,577.03 129.72,579.21 131.36,581.55 133.01,584.00 134.65,586.51 136.29,589.02 137.94,591.47 139.58,593.84 141.22,596.09 142.87,598.19 144.51,600.13 146.16,601.88 147.80,603.45 149.44,604.83 151.09,606.04 152.73,607.08 154.37,607.96 156.02,608.71 157.66,609.32 159.30,609.83 160.95,610.24 162.59,610.57 164.23,610.83 165.88,611.03 167.52,611.19"/>
<rect class="fr" x="1.45" y="483.85" width="219.45" height="127.80"/>
<path class="tk" d="M7.15 611.65v8.3M15.80 611.65v4.9M24.45 611.65v8.3M33.10 611.65v4.9M41.75 611.65v8.3M50.40 611.65v4.9M59.05 611.65v8.3M67.70 611.65v4.9M76.35 611.65v8.3M85.00 611.65v4.9M93.65 611.65v8.3M102.30 611.65v4.9M110.95 611.65v8.3M119.60 611.65v4.9M128.25 611.65v8.3M136.90 611.65v4.9M145.55 611.65v8.3M154.20 611.65v4.9M162.85 611.65v8.3M171.50 611.65v4.9M180.15 611.65v8.3M188.80 611.65v4.9M197.45 611.65v8.3M206.10 611.65v4.9M214.75 611.65v8.3"/>
<text class="t" transform="translate(7.35 629.65) scale(.835 1)">0</text><text class="t" transform="translate(24.65 629.65) scale(.835 1)">50</text><text class="t" transform="translate(41.95 629.65) scale(.835 1)">100</text><text class="t" transform="translate(59.25 629.65) scale(.835 1)">150</text><text class="t" transform="translate(76.55 629.65) scale(.835 1)">200</text><text class="t" transform="translate(93.85 629.65) scale(.835 1)">250</text><text class="t" transform="translate(111.15 629.65) scale(.835 1)">300</text><text class="t" transform="translate(128.45 629.65) scale(.835 1)">350</text><text class="t" transform="translate(145.75 629.65) scale(.835 1)">400</text><text class="t" transform="translate(163.05 629.65) scale(.835 1)">450</text><text class="t" transform="translate(180.35 629.65) scale(.835 1)">500</text><text class="t" transform="translate(197.65 629.65) scale(.835 1)">550</text><text class="t" transform="translate(214.95 629.65) scale(.835 1)">600</text>
<line class="md" x1="68.00" y1="507.85" x2="68.00" y2="611.65" stroke-width="2.6"/>
<text class="b" x="62.65" y="506.45" textLength="44.6" lengthAdjust="spacingAndGlyphs">Median</text>
<text class="b" x="191.80" y="504.50" text-anchor="middle" textLength="32.4" lengthAdjust="spacingAndGlyphs">Week</text><text class="b" x="192.80" y="516.85" text-anchor="middle" style="font-size:12.5px">7</text>
</g>
<g id="week8">
<rect class="bar" x="254.83" y="606.40" width="4.33" height="5.25"/><rect class="bar" x="259.17" y="559.30" width="4.33" height="52.35"/><rect class="bar" x="263.50" y="501.50" width="4.33" height="110.15"/><rect class="bar" x="267.83" y="571.20" width="4.33" height="40.45"/><rect class="bar" x="272.17" y="592.40" width="4.33" height="19.25"/><rect class="bar" x="276.50" y="588.40" width="4.33" height="23.25"/><rect class="bar" x="280.83" y="597.90" width="4.33" height="13.75"/><rect class="bar" x="285.17" y="602.90" width="4.33" height="8.75"/><rect class="bar" x="289.50" y="592.40" width="4.33" height="19.25"/><rect class="bar" x="293.83" y="600.90" width="4.33" height="10.75"/><rect class="bar" x="298.17" y="606.80" width="4.33" height="4.85"/><rect class="bar" x="302.50" y="600.50" width="4.33" height="11.15"/><rect class="bar" x="306.83" y="597.90" width="4.33" height="13.75"/><rect class="bar" x="311.17" y="602.90" width="4.33" height="8.75"/><rect class="bar" x="315.50" y="606.80" width="4.33" height="4.85"/><rect class="bar" x="319.83" y="606.80" width="4.33" height="4.85"/><rect class="bar" x="324.17" y="602.90" width="4.33" height="8.75"/><rect class="bar" x="328.50" y="594.40" width="4.33" height="17.25"/><rect class="bar" x="332.83" y="592.40" width="4.33" height="19.25"/><rect class="bar" x="337.17" y="595.00" width="4.33" height="16.65"/><rect class="bar" x="341.50" y="597.90" width="4.33" height="13.75"/><rect class="bar" x="345.83" y="583.50" width="4.33" height="28.15"/><rect class="bar" x="350.17" y="583.50" width="4.33" height="28.15"/><rect class="bar" x="354.50" y="583.50" width="4.33" height="28.15"/><rect class="bar" x="358.83" y="606.80" width="4.33" height="4.85"/><rect class="bar" x="363.17" y="602.90" width="4.33" height="8.75"/><rect class="bar" x="367.50" y="597.90" width="4.33" height="13.75"/><rect class="bar" x="371.83" y="588.40" width="4.33" height="23.25"/><rect class="bar" x="376.17" y="609.50" width="4.33" height="2.15"/><rect class="bar" x="380.50" y="606.80" width="4.33" height="4.85"/><rect class="bar" x="384.83" y="597.90" width="4.33" height="13.75"/><rect class="bar" x="389.17" y="606.80" width="4.33" height="4.85"/><rect class="bar" x="393.50" y="606.80" width="4.33" height="4.85"/><rect class="bar" x="402.17" y="600.50" width="4.33" height="11.15"/><rect class="bar" x="406.50" y="609.40" width="4.33" height="2.25"/>
<polyline class="cv" points="249.97,611.23 250.58,611.05 251.19,610.79 251.80,610.44 252.42,609.96 253.03,609.33 253.64,608.50 254.25,607.43 254.86,606.07 255.47,604.35 256.09,602.22 256.70,599.63 257.31,596.51 257.92,592.82 258.53,588.51 259.14,583.58 259.76,578.02 260.37,571.85 260.98,565.14 261.59,557.97 262.20,550.46 262.81,542.76 263.43,535.06 264.04,527.55 264.65,520.45 265.26,513.98 265.87,508.34 266.48,503.73 267.10,500.31 267.71,498.21 268.32,497.50 268.93,498.21 269.54,500.31 270.15,503.73 270.77,508.34 271.38,513.98 271.99,520.45 272.60,527.55 273.21,535.06 273.82,542.76 274.44,550.46 275.05,557.97 275.66,565.14 276.27,571.85 276.88,578.02 277.49,583.58 278.10,588.51 278.72,592.82 279.33,596.51 279.94,599.63 280.55,602.22 281.16,604.35 281.77,606.07 282.39,607.43 283.00,608.50 283.61,609.33 284.22,609.96 284.83,610.44 285.44,610.79 286.06,611.05 286.67,611.23"/>
<polyline class="cv" points="303.71,611.36 305.41,611.26 307.11,611.13 308.81,610.96 310.51,610.76 312.21,610.50 313.91,610.18 315.60,609.79 317.30,609.32 319.00,608.76 320.70,608.10 322.40,607.33 324.10,606.46 325.80,605.46 327.49,604.35 329.19,603.13 330.89,601.80 332.59,600.37 334.29,598.87 335.99,597.32 337.69,595.73 339.39,594.14 341.08,592.59 342.78,591.10 344.48,589.72 346.18,588.48 347.88,587.42 349.58,586.56 351.28,585.92 352.97,585.53 354.67,585.40 356.37,585.53 358.07,585.92 359.77,586.56 361.47,587.42 363.17,588.48 364.87,589.72 366.56,591.10 368.26,592.59 369.96,594.14 371.66,595.73 373.36,597.32 375.06,598.87 376.76,600.37 378.45,601.80 380.15,603.13 381.85,604.35 383.55,605.46 385.25,606.46 386.95,607.33 388.65,608.10 390.35,608.76 392.04,609.32 393.74,609.79 395.44,610.18 397.14,610.50 398.84,610.76 400.54,610.96 402.24,611.13 403.93,611.26 405.63,611.36"/>
<rect class="fr" x="231.50" y="483.85" width="220.10" height="127.80"/>
<path class="tk" d="M237.50 611.65v8.3M246.17 611.65v4.9M254.83 611.65v8.3M263.50 611.65v4.9M272.17 611.65v8.3M280.83 611.65v4.9M289.50 611.65v8.3M298.17 611.65v4.9M306.83 611.65v8.3M315.50 611.65v4.9M324.17 611.65v8.3M332.83 611.65v4.9M341.50 611.65v8.3M350.17 611.65v4.9M358.83 611.65v8.3M367.50 611.65v4.9M376.17 611.65v8.3M384.83 611.65v4.9M393.50 611.65v8.3M402.17 611.65v4.9M410.83 611.65v8.3M419.50 611.65v4.9M428.17 611.65v8.3M436.83 611.65v4.9M445.50 611.65v8.3"/>
<text class="t" transform="translate(237.50 629.65) scale(.835 1)">0</text><text class="t" transform="translate(254.83 629.65) scale(.835 1)">50</text><text class="t" transform="translate(272.17 629.65) scale(.835 1)">100</text><text class="t" transform="translate(289.50 629.65) scale(.835 1)">150</text><text class="t" transform="translate(306.83 629.65) scale(.835 1)">200</text><text class="t" transform="translate(324.17 629.65) scale(.835 1)">250</text><text class="t" transform="translate(341.50 629.65) scale(.835 1)">300</text><text class="t" transform="translate(358.83 629.65) scale(.835 1)">350</text><text class="t" transform="translate(376.17 629.65) scale(.835 1)">400</text><text class="t" transform="translate(393.50 629.65) scale(.835 1)">450</text><text class="t" transform="translate(410.83 629.65) scale(.835 1)">500</text><text class="t" transform="translate(428.17 629.65) scale(.835 1)">550</text><text class="t" transform="translate(445.50 629.65) scale(.835 1)">600</text>
<line class="md" x1="303.40" y1="507.85" x2="303.40" y2="611.65" stroke-width="2.0"/>
<text class="b" x="298.05" y="506.45" textLength="44.6" lengthAdjust="spacingAndGlyphs">Median</text>
<text class="b" x="422.60" y="504.20" text-anchor="middle" textLength="32.4" lengthAdjust="spacingAndGlyphs">Week</text><text class="b" x="423.60" y="516.35" text-anchor="middle" style="font-size:12.5px">8</text>
</g>
<g id="week9">
<rect class="bar" x="487.03" y="596.90" width="4.33" height="14.75"/><rect class="bar" x="491.37" y="517.70" width="4.33" height="93.95"/><rect class="bar" x="495.70" y="501.50" width="4.33" height="110.15"/><rect class="bar" x="500.03" y="517.70" width="4.33" height="93.95"/><rect class="bar" x="504.37" y="576.10" width="4.33" height="35.55"/><rect class="bar" x="508.70" y="596.90" width="4.33" height="14.75"/><rect class="bar" x="513.03" y="603.90" width="4.33" height="7.75"/><rect class="bar" x="517.37" y="584.70" width="4.33" height="26.95"/><rect class="bar" x="521.70" y="600.50" width="4.33" height="11.15"/><rect class="bar" x="530.37" y="596.90" width="4.33" height="14.75"/><rect class="bar" x="534.70" y="596.90" width="4.33" height="14.75"/><rect class="bar" x="539.03" y="600.50" width="4.33" height="11.15"/><rect class="bar" x="543.37" y="604.50" width="4.33" height="7.15"/><rect class="bar" x="547.70" y="607.80" width="4.33" height="3.85"/><rect class="bar" x="552.03" y="607.80" width="4.33" height="3.85"/><rect class="bar" x="560.70" y="592.40" width="4.33" height="19.25"/><rect class="bar" x="565.03" y="565.20" width="4.33" height="46.45"/><rect class="bar" x="569.37" y="584.70" width="4.33" height="26.95"/><rect class="bar" x="573.70" y="588.40" width="4.33" height="23.25"/><rect class="bar" x="578.03" y="572.60" width="4.33" height="39.05"/><rect class="bar" x="582.37" y="581.10" width="4.33" height="30.55"/><rect class="bar" x="586.70" y="569.20" width="4.33" height="42.45"/><rect class="bar" x="591.03" y="584.70" width="4.33" height="26.95"/><rect class="bar" x="595.37" y="588.40" width="4.33" height="23.25"/><rect class="bar" x="599.70" y="584.70" width="4.33" height="26.95"/><rect class="bar" x="604.03" y="588.40" width="4.33" height="23.25"/><rect class="bar" x="608.37" y="604.50" width="4.33" height="7.15"/><rect class="bar" x="612.70" y="588.40" width="4.33" height="23.25"/><rect class="bar" x="617.03" y="600.50" width="4.33" height="11.15"/><rect class="bar" x="621.37" y="608.20" width="4.33" height="3.45"/><rect class="bar" x="625.70" y="600.50" width="4.33" height="11.15"/><rect class="bar" x="630.03" y="604.50" width="4.33" height="7.15"/><rect class="bar" x="634.37" y="608.20" width="4.33" height="3.45"/><rect class="bar" x="638.70" y="604.50" width="4.33" height="7.15"/><rect class="bar" x="643.03" y="608.20" width="4.33" height="3.45"/><rect class="bar" x="647.37" y="608.20" width="4.33" height="3.45"/><rect class="bar" x="651.70" y="604.50" width="4.33" height="7.15"/><rect class="bar" x="656.03" y="608.20" width="4.33" height="3.45"/><rect class="bar" x="660.37" y="604.50" width="4.33" height="7.15"/>
<polyline class="cv" points="478.14,611.23 478.95,611.05 479.77,610.79 480.58,610.44 481.39,609.96 482.21,609.33 483.02,608.50 483.83,607.43 484.64,606.07 485.46,604.35 486.27,602.22 487.08,599.63 487.90,596.51 488.71,592.82 489.52,588.51 490.34,583.58 491.15,578.02 491.96,571.85 492.77,565.14 493.59,557.97 494.40,550.46 495.21,542.76 496.03,535.06 496.84,527.55 497.65,520.45 498.46,513.98 499.28,508.34 500.09,503.73 500.90,500.31 501.72,498.21 502.53,497.50 503.34,498.21 504.16,500.31 504.97,503.73 505.78,508.34 506.59,513.98 507.41,520.45 508.22,527.55 509.03,535.06 509.85,542.76 510.66,550.46 511.47,557.97 512.28,565.14 513.10,571.85 513.91,578.02 514.72,583.58 515.54,588.51 516.35,592.82 517.16,596.51 517.98,599.63 518.79,602.22 519.60,604.35 520.41,606.07 521.23,607.43 522.04,608.50 522.85,609.33 523.67,609.96 524.48,610.44 525.29,610.79 526.10,611.05 526.92,611.23"/>
<polyline class="cv" points="542.89,611.37 544.45,611.25 546.01,611.09 547.57,610.88 549.12,610.60 550.68,610.24 552.24,609.77 553.80,609.17 555.36,608.42 556.92,607.50 558.48,606.37 560.03,605.01 561.59,603.40 563.15,601.51 564.71,599.35 566.27,596.90 567.83,594.16 569.39,591.16 570.94,587.92 572.50,584.49 574.06,580.93 575.62,577.30 577.18,573.70 578.74,570.21 580.30,566.92 581.85,563.94 583.41,561.35 584.97,559.24 586.53,557.68 588.09,556.72 589.65,556.40 591.21,556.72 592.76,557.68 594.32,559.24 595.88,561.35 597.44,563.94 599.00,566.92 600.56,570.21 602.12,573.70 603.67,577.30 605.23,580.93 606.79,584.49 608.35,587.92 609.91,591.16 611.47,594.16 613.02,596.90 614.58,599.35 616.14,601.51 617.70,603.40 619.26,605.01 620.82,606.37 622.38,607.50 623.93,608.42 625.49,609.17 627.05,609.77 628.61,610.24 630.17,610.60 631.73,610.88 633.29,611.09 634.84,611.25 636.40,611.37"/>
<rect class="fr" x="463.70" y="483.85" width="219.60" height="127.80"/>
<path class="tk" d="M469.70 611.65v8.3M478.37 611.65v4.9M487.03 611.65v8.3M495.70 611.65v4.9M504.37 611.65v8.3M513.03 611.65v4.9M521.70 611.65v8.3M530.37 611.65v4.9M539.03 611.65v8.3M547.70 611.65v4.9M556.37 611.65v8.3M565.03 611.65v4.9M573.70 611.65v8.3M582.37 611.65v4.9M591.03 611.65v8.3M599.70 611.65v4.9M608.37 611.65v8.3M617.03 611.65v4.9M625.70 611.65v8.3M634.37 611.65v4.9M643.03 611.65v8.3M651.70 611.65v4.9M660.37 611.65v8.3M669.03 611.65v4.9M677.70 611.65v8.3"/>
<text class="t" transform="translate(469.30 629.65) scale(.835 1)">0</text><text class="t" transform="translate(486.63 629.65) scale(.835 1)">50</text><text class="t" transform="translate(503.97 629.65) scale(.835 1)">100</text><text class="t" transform="translate(521.30 629.65) scale(.835 1)">150</text><text class="t" transform="translate(538.63 629.65) scale(.835 1)">200</text><text class="t" transform="translate(555.97 629.65) scale(.835 1)">250</text><text class="t" transform="translate(573.30 629.65) scale(.835 1)">300</text><text class="t" transform="translate(590.63 629.65) scale(.835 1)">350</text><text class="t" transform="translate(607.97 629.65) scale(.835 1)">400</text><text class="t" transform="translate(625.30 629.65) scale(.835 1)">450</text><text class="t" transform="translate(642.63 629.65) scale(.835 1)">500</text><text class="t" transform="translate(659.97 629.65) scale(.835 1)">550</text><text class="t" transform="translate(677.30 629.65) scale(.835 1)">600</text>
<line class="md" x1="544.80" y1="507.85" x2="544.80" y2="611.65" stroke-width="2.6"/>
<text class="b" x="539.45" y="506.45" textLength="44.6" lengthAdjust="spacingAndGlyphs">Median</text>
<text class="b" x="655.90" y="505.50" text-anchor="middle" textLength="32.4" lengthAdjust="spacingAndGlyphs">Week</text><text class="b" x="656.90" y="517.75" text-anchor="middle" style="font-size:12.5px">9</text>
</g>
<path d="M232 .5H452.6M.5 164V292.6M.5 326V454.6M.5 483.5V611.7" stroke="#9c9c9c" stroke-width="1" fill="none"/>
</svg>
</body></html>
